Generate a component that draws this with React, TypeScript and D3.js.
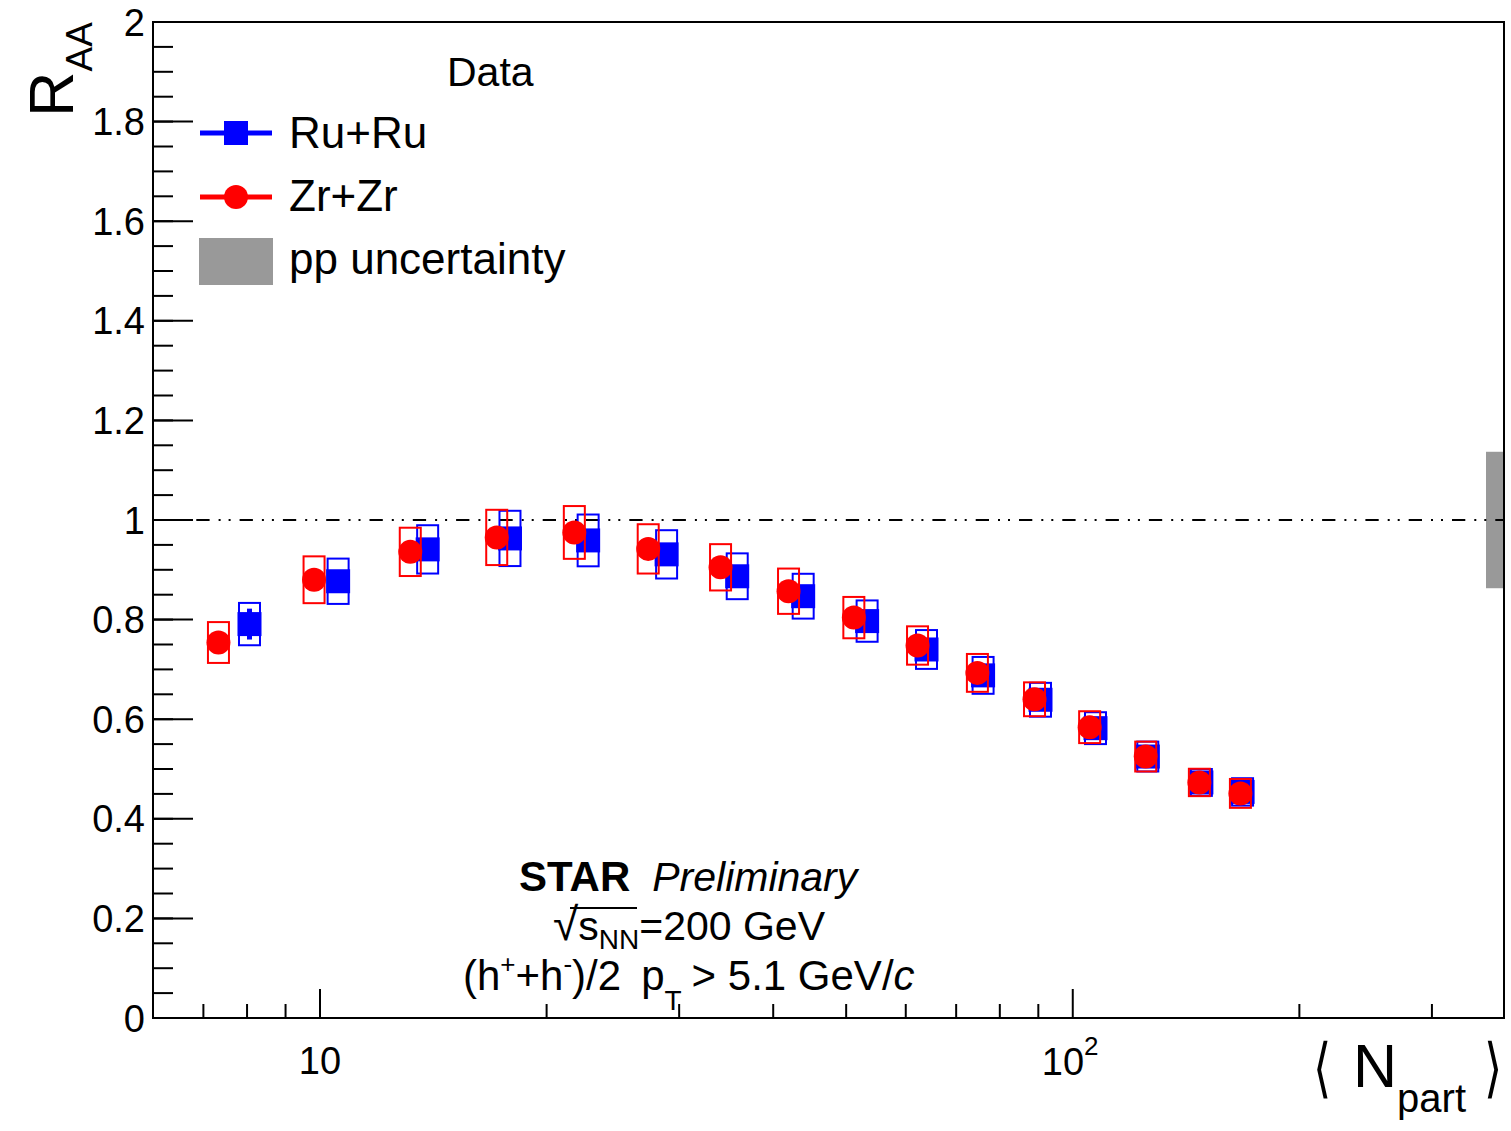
import React from "react";
import * as d3 from "d3";

// Nuclear modification factor vs. <Npart>, Ru+Ru and Zr+Zr at 200 GeV
const ruNpart = [8.06, 10.57, 13.9, 17.88, 22.71, 28.87, 35.83, 43.84, 53.31, 63.93, 76.01, 90.6, 107.2, 125.8, 148.2, 168.1];
const ruRaa = [0.791, 0.877, 0.941, 0.963, 0.959, 0.931, 0.887, 0.847, 0.797, 0.74, 0.688, 0.639, 0.582, 0.525, 0.473, 0.454];
const ruSys = [0.0425, 0.0455, 0.0485, 0.0555, 0.052, 0.0485, 0.046, 0.045, 0.0415, 0.039, 0.037, 0.034, 0.032, 0.03, 0.027, 0.0275];
const ruStat = [0.031, 0.016, 0.012, 0.011, 0.01, 0.009, 0.008, 0.007, 0.006, 0.006, 0.005, 0.005, 0.004, 0.004, 0.004, 0.004];

const zrNpart = [7.33, 9.82, 13.18, 17.17, 21.77, 27.29, 34.05, 41.92, 51.19, 62.2, 74.7, 88.96, 105.3, 125.0, 147.3, 167.0];
const zrRaa = [0.754, 0.88, 0.936, 0.965, 0.975, 0.942, 0.905, 0.857, 0.804, 0.748, 0.693, 0.64, 0.584, 0.525, 0.473, 0.451];
const zrSys = [0.041, 0.047, 0.0485, 0.0555, 0.053, 0.0495, 0.0465, 0.0455, 0.0415, 0.0385, 0.038, 0.034, 0.032, 0.03, 0.0275, 0.029];
const zrStat = [0.02, 0.014, 0.012, 0.011, 0.01, 0.009, 0.008, 0.007, 0.006, 0.006, 0.005, 0.005, 0.004, 0.004, 0.004, 0.004];

const ppUncertainty = 0.137;

const xMajorTicks = [10, 100];
const xMinorTicks = [7, 8, 9, 20, 30, 40, 50, 60, 70, 80, 90, 200, 300];
const yMajorTicks = [0, 0.2, 0.4, 0.6, 0.8, 1, 1.2, 1.4, 1.6, 1.8, 2];
const yMinorTicks = d3.range(0, 2.0001, 0.05);

const legendLabels = ["Ru+Ru", "Zr+Zr", "pp uncertainty"];

const BLUE = "#0000ff";
const RED = "#ff0000";
const GRAY = "#999999";
const FONT = "'Liberation Sans', Arial, Helvetica, sans-serif";

const W = 1511;
const H = 1131;
const left = 153;
const right = 1504;
const top = 22;
const bottom = 1018;

export default function App() {
  const x = d3.scaleLog().domain([6, 374]).range([left, right]);
  const y = d3.scaleLinear().domain([0, 2]).range([bottom, top]);

  const boxHalf = 10.5;
  const marker = 24;

  const series = [
    { name: "ru", npart: ruNpart, raa: ruRaa, sys: ruSys, stat: ruStat, color: BLUE },
    { name: "zr", npart: zrNpart, raa: zrRaa, sys: zrSys, stat: zrStat, color: RED },
  ];

  return (
    <svg
      width={W}
      height={H}
      style={{ position: "absolute", left: 0, top: 0, background: "#fff" }}
      fontFamily={FONT}
    >
      <rect x={0} y={0} width={W} height={H} fill="#fff" />

      {/* pp normalisation uncertainty at unity */}
      <rect
        x={right - 18}
        y={y(1 + ppUncertainty)}
        width={18}
        height={y(1 - ppUncertainty) - y(1 + ppUncertainty)}
        fill={GRAY}
      />

      {/* reference line at R_AA = 1 */}
      <line
        x1={left}
        x2={right}
        y1={y(1)}
        y2={y(1)}
        stroke="#000"
        strokeWidth={2}
        strokeDasharray="13.3 9 2 8 2 9"
      />

      {/* data: systematic boxes, statistical bars, markers */}
      {series.map((s) => (
        <g key={s.name}>
          {s.npart.map((n, i) => (
            <rect
              key={"b" + i}
              x={x(n) - boxHalf}
              y={y(s.raa[i] + s.sys[i])}
              width={boxHalf * 2}
              height={y(s.raa[i] - s.sys[i]) - y(s.raa[i] + s.sys[i])}
              fill="none"
              stroke={s.color}
              strokeWidth={2}
            />
          ))}
          {s.npart.map((n, i) => (
            <line
              key={"e" + i}
              x1={x(n)}
              x2={x(n)}
              y1={y(s.raa[i] + s.stat[i])}
              y2={y(s.raa[i] - s.stat[i])}
              stroke={s.color}
              strokeWidth={5}
            />
          ))}
          {s.npart.map((n, i) =>
            s.name === "ru" ? (
              <rect
                key={"m" + i}
                x={x(n) - marker / 2}
                y={y(s.raa[i]) - marker / 2}
                width={marker}
                height={marker}
                fill={s.color}
              />
            ) : (
              <circle key={"m" + i} cx={x(n)} cy={y(s.raa[i])} r={marker / 2} fill={s.color} />
            )
          )}
        </g>
      ))}

      {/* frame */}
      <rect x={left} y={top} width={right - left} height={bottom - top} fill="none" stroke="#000" strokeWidth={2} />

      {/* y axis ticks */}
      {yMinorTicks.map((t, i) => (
        <line key={"ym" + i} x1={left} x2={left + 20} y1={y(t)} y2={y(t)} stroke="#000" strokeWidth={2} />
      ))}
      {yMajorTicks.map((t) => (
        <line key={"yM" + t} x1={left} x2={left + 40} y1={y(t)} y2={y(t)} stroke="#000" strokeWidth={2} />
      ))}
      {yMajorTicks.map((t) => (
        <text
          key={"yl" + t}
          x={145}
          y={y(t)}
          dy="0.36em"
          textAnchor="end"
          fontSize={38}
          fill="#000"
        >
          {d3.format("~g")(t)}
        </text>
      ))}

      {/* x axis ticks */}
      {xMinorTicks.map((t) => (
        <line key={"xm" + t} x1={x(t)} x2={x(t)} y1={bottom} y2={bottom - 14} stroke="#000" strokeWidth={2} />
      ))}
      {xMajorTicks.map((t) => (
        <line key={"xM" + t} x1={x(t)} x2={x(t)} y1={bottom} y2={bottom - 29} stroke="#000" strokeWidth={2} />
      ))}
      <text x={x(10)} y={1074} textAnchor="middle" fontSize={38}>
        10
      </text>
      <text x={x(100) - 31} y={1075} fontSize={38}>
        10
        <tspan fontSize={26} dy={-20}>
          2
        </tspan>
      </text>

      {/* axis titles */}
      <text transform="translate(73,117) rotate(-90)" fontSize={63}>
        R
        <tspan fontSize={37} dy={19}>
          AA
        </tspan>
      </text>
      <text
        transform="translate(1313,1090) scale(0.9,1.25)"
        fontSize={52}
        fontFamily="'DejaVu Sans', sans-serif"
        fontWeight={200}
      >
        ⟨
      </text>
      <text x={1353} y={1087} fontSize={61}>
        N
        <tspan fontSize={40} dy={25}>
          part
        </tspan>
      </text>
      <text
        transform="translate(1484,1090) scale(0.9,1.25)"
        fontSize={52}
        fontFamily="'DejaVu Sans', sans-serif"
        fontWeight={200}
      >
        ⟩
      </text>

      {/* legend */}
      <text x={447} y={86} fontSize={41}>
        Data
      </text>
      <line x1={200} x2={272} y1={133} y2={133} stroke={BLUE} strokeWidth={5} />
      <rect x={236 - marker / 2} y={133 - marker / 2} width={marker} height={marker} fill={BLUE} />
      <text x={289} y={148} fontSize={44}>
        {legendLabels[0]}
      </text>
      <line x1={200} x2={272} y1={197} y2={197} stroke={RED} strokeWidth={5} />
      <circle cx={236} cy={197} r={marker / 2} fill={RED} />
      <text x={289} y={211} fontSize={44}>
        {legendLabels[1]}
      </text>
      <rect x={199} y={238} width={74} height={47} fill={GRAY} />
      <text x={289} y={274} fontSize={44}>
        {legendLabels[2]}
      </text>

      {/* collaboration label and kinematics */}
      <text x={519} y={891} fontSize={42}>
        <tspan fontWeight="bold">STAR</tspan>
        <tspan dx={22} fontSize={41} fontStyle="italic">
          Preliminary
        </tspan>
      </text>
      <text x={553} y={940} fontSize={41}>
        <tspan fontSize={46}>√</tspan>
        <tspan>s</tspan>
        <tspan fontSize={28} dy={9}>
          NN
        </tspan>
        <tspan dy={-9}>=200 GeV</tspan>
      </text>
      <line x1={570} x2={637} y1={908} y2={908} stroke="#000" strokeWidth={2} />
      <text x={463} y={990} fontSize={42}>
        (h
        <tspan fontSize={26} dy={-17}>
          +
        </tspan>
        <tspan dy={17}>+h</tspan>
        <tspan fontSize={26} dy={-17}>
          -
        </tspan>
        <tspan dy={17}>)/2</tspan>
        <tspan dx={20}>p</tspan>
        <tspan fontSize={28} dy={20}>
          T
        </tspan>
        <tspan dy={-20} dx={10}>
          {"> 5.1 GeV/"}
        </tspan>
        <tspan fontStyle="italic">c</tspan>
      </text>
    </svg>
  );
}
